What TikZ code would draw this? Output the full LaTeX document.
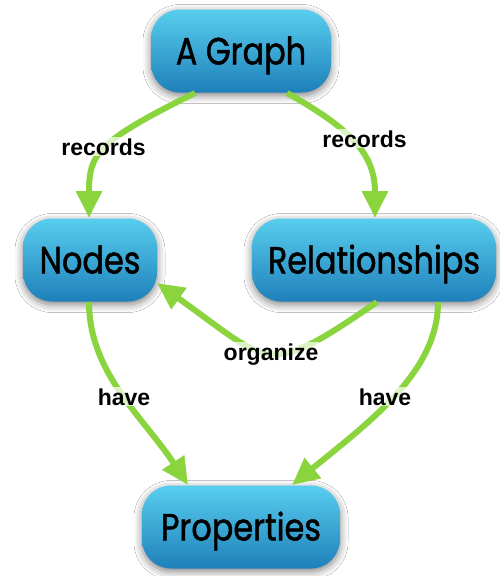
\documentclass[tikz,border=0pt]{standalone}
\usepackage{fontspec}
\setmainfont{Liberation Sans}
\newfontfamily\conceptfont[FakeStretch=0.84,FakeBold=1.2]{Poppins}
\usetikzlibrary{arrows.meta,calc,shadows.blur}
\definecolor{edgegreen}{RGB}{138,212,62}
\definecolor{boxtop}{RGB}{88,206,238}
\definecolor{boxbot}{RGB}{30,128,186}
\tikzset{
  concept/.style={rounded corners=29pt, inner sep=0pt, top color=boxtop, bottom color=boxbot,
    draw=none, minimum height=83pt, text height=27pt, text depth=0pt,
    font=\conceptfont\fontsize{38}{40}\selectfont,
    blur shadow={shadow xshift=0pt, shadow yshift=-3pt, shadow blur radius=8pt, shadow opacity=50}},
  link/.style={draw=edgegreen, line width=6pt, -{Triangle[width=25pt,length=27pt]}},
  lbl/.style={font=\bfseries\fontsize{23}{25}\selectfont, fill=white, fill opacity=0.7,
    text opacity=1, inner sep=1pt, anchor=base}
}
\begin{document}
\begin{tikzpicture}[x=1pt,y=-1pt]
\fill[white] (0,0) rectangle (500,576);
\useasboundingbox (0,0) rectangle (500,576);
% concept nodes
\node[concept, minimum width=180pt] (ag) at (241,51) {A Graph};
\node[concept, minimum width=134pt] (nd) at (90,260) {Nodes};
\node[concept, minimum width=244pt] (rel) at (374,260) {Relationships};
\node[concept, minimum width=198pt] (pr) at (241,527) {Properties};
% links
\draw[link] ($(ag.center)+(-46,42)$) .. controls (96,142) and (89,154) .. ($(nd.center)+(-1,-42)$);
\draw[link] ($(ag.center)+(46,42)$) .. controls (351,129) and (375,154) .. ($(rel.center)+(1,-42)$);
\draw[link] ($(nd.center)+(-1,42)$) .. controls (89,373) and (144,418) .. ($(pr.center)+(-53,-42)$);
\draw[link] ($(rel.center)+(64,42)$) .. controls (438,371) and (372,420) .. ($(pr.center)+(51,-42)$);
\draw[link] ($(rel.center)+(3,42)$) .. controls (265,379) and (272,365) .. ($(nd.center)+(67,23)$);
% labels
\node[lbl] (l1) at (103.5,155) {records};
\node[lbl] (l2) at (364.5,147) {records};
\node[lbl] (l3) at (271,360) {organize};
\node[lbl] (l4) at (124,405) {have};
\node[lbl] (l5) at (385,405) {have};
\end{tikzpicture}
\end{document}
